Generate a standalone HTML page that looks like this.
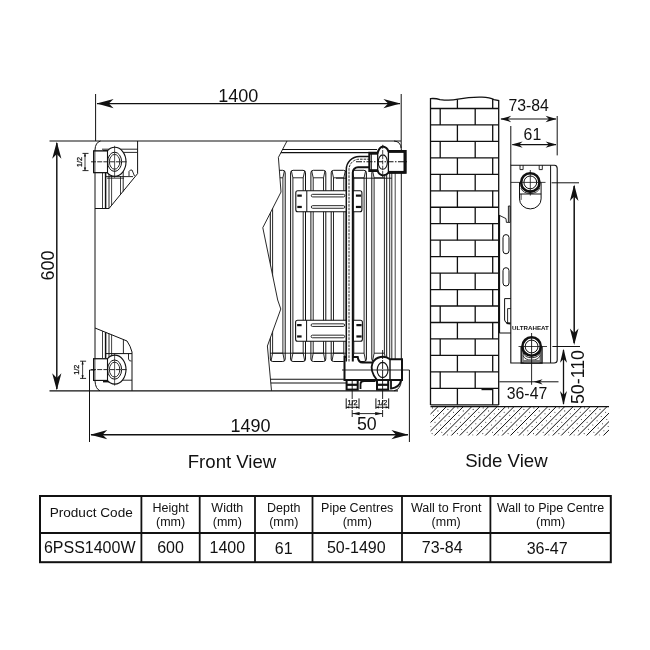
<!DOCTYPE html>
<html><head><meta charset="utf-8"><title>Radiator dimensions</title>
<style>
html,body{margin:0;padding:0;background:#fff;}
body{width:650px;height:650px;overflow:hidden;font-family:"Liberation Sans",sans-serif;}
svg{display:block;will-change:transform;opacity:0.999;}
svg text{font-family:"Liberation Sans",sans-serif;fill:#111;}
</style></head><body>
<svg width="650" height="650" viewBox="0 0 650 650">
<rect width="650" height="650" fill="#fff"/>
<line x1="95.6" y1="94" x2="95.6" y2="141" stroke="#111" stroke-width="1.0" />
<line x1="401.2" y1="94" x2="401.2" y2="148" stroke="#111" stroke-width="1.0" />
<line x1="97" y1="103.6" x2="400" y2="103.6" stroke="#111" stroke-width="1.45" />
<polygon points="96.60,103.60 113.60,99.00 108.84,103.60 113.60,108.20" fill="#111"/>
<polygon points="400.40,103.60 383.40,108.20 388.16,103.60 383.40,99.00" fill="#111"/>
<text x="238.2" y="101.8" font-size="18" text-anchor="middle" font-weight="normal" >1400</text>
<line x1="49.5" y1="141" x2="401" y2="141" stroke="#111" stroke-width="1.2" />
<line x1="49.5" y1="390.8" x2="398" y2="390.8" stroke="#111" stroke-width="1.2" />
<line x1="56.8" y1="143" x2="56.8" y2="389" stroke="#111" stroke-width="1.45" />
<polygon points="56.80,141.80 61.40,158.80 56.80,154.04 52.20,158.80" fill="#111"/>
<polygon points="56.80,390.20 52.20,373.20 56.80,377.96 61.40,373.20" fill="#111"/>
<text x="53.7" y="265.5" font-size="18" text-anchor="middle" font-weight="normal" transform="rotate(-90 53.7 265.5)" >600</text>
<line x1="89.5" y1="370" x2="89.5" y2="442" stroke="#111" stroke-width="1.0" />
<line x1="409.4" y1="370" x2="409.4" y2="442" stroke="#111" stroke-width="1.0" />
<line x1="91" y1="434.7" x2="408" y2="434.7" stroke="#111" stroke-width="1.45" />
<polygon points="90.30,434.70 107.30,430.10 102.54,434.70 107.30,439.30" fill="#111"/>
<polygon points="408.40,434.70 391.40,439.30 396.16,434.70 391.40,430.10" fill="#111"/>
<text x="250.5" y="431.8" font-size="18" text-anchor="middle" font-weight="normal" >1490</text>
<path d="M100.5,141 Q95.2,142.5 95,150 L95,381 Q95.5,389 100,390.8" fill="none" stroke="#111" stroke-width="1.0" />
<path d="M394,141 Q401,141.5 401.3,149 L401.3,380 Q401,389.5 394,390.8" fill="none" stroke="#111" stroke-width="1.0" />
<clipPath id="brk"><polygon points="287,141 278.4,157.4 281,192 262.8,227.7 277.7,300 280.8,309 267.4,346 271.5,390.8 402,390.8 402,141"/></clipPath>
<g clip-path="url(#brk)">
<line x1="270" y1="149.5" x2="377" y2="149.5" stroke="#111" stroke-width="1.1" />
<line x1="270" y1="152.6" x2="370" y2="152.6" stroke="#111" stroke-width="1.1" />
<line x1="265" y1="379.2" x2="346" y2="379.2" stroke="#111" stroke-width="1.1" />
<line x1="265" y1="383" x2="346" y2="383" stroke="#111" stroke-width="1.1" />
<path d="M270.3,359.0 L270.3,172.8 Q270.3,170.3 272.8,170.3 L282.7,170.3 Q285.2,170.3 285.2,172.8 L285.2,359.0 Q285.2,361.5 282.7,361.5 L272.8,361.5 Q270.3,361.5 270.3,359.0" fill="none" stroke="#111" stroke-width="1.0" />
<path d="M271.1,170.9 L272.6,177.8 L272.6,353.2 L271.1,360.9 M284.4,170.9 L282.9,177.8 L282.9,353.2 L284.4,360.9 M272.6,177.8 L282.9,177.8 M272.6,353.2 L282.9,353.2" fill="none" stroke="#111" stroke-width="0.9" />
<path d="M290.6,359.0 L290.6,172.8 Q290.6,170.3 293.1,170.3 L303.0,170.3 Q305.5,170.3 305.5,172.8 L305.5,359.0 Q305.5,361.5 303.0,361.5 L293.1,361.5 Q290.6,361.5 290.6,359.0" fill="none" stroke="#111" stroke-width="1.0" />
<path d="M291.40000000000003,170.9 L292.90000000000003,177.8 L292.90000000000003,353.2 L291.40000000000003,360.9 M304.7,170.9 L303.2,177.8 L303.2,353.2 L304.7,360.9 M292.90000000000003,177.8 L303.2,177.8 M292.90000000000003,353.2 L303.2,353.2" fill="none" stroke="#111" stroke-width="0.9" />
<path d="M310.90000000000003,359.0 L310.90000000000003,172.8 Q310.90000000000003,170.3 313.40000000000003,170.3 L323.3,170.3 Q325.8,170.3 325.8,172.8 L325.8,359.0 Q325.8,361.5 323.3,361.5 L313.40000000000003,361.5 Q310.90000000000003,361.5 310.90000000000003,359.0" fill="none" stroke="#111" stroke-width="1.0" />
<path d="M311.70000000000005,170.9 L313.20000000000005,177.8 L313.20000000000005,353.2 L311.70000000000005,360.9 M325.0,170.9 L323.5,177.8 L323.5,353.2 L325.0,360.9 M313.20000000000005,177.8 L323.5,177.8 M313.20000000000005,353.2 L323.5,353.2" fill="none" stroke="#111" stroke-width="0.9" />
<path d="M331.20000000000005,359.0 L331.20000000000005,172.8 Q331.20000000000005,170.3 333.70000000000005,170.3 L343.6,170.3 Q346.1,170.3 346.1,172.8 L346.1,359.0 Q346.1,361.5 343.6,361.5 L333.70000000000005,361.5 Q331.20000000000005,361.5 331.20000000000005,359.0" fill="none" stroke="#111" stroke-width="1.0" />
<path d="M332.00000000000006,170.9 L333.50000000000006,177.8 L333.50000000000006,353.2 L332.00000000000006,360.9 M345.3,170.9 L343.8,177.8 L343.8,353.2 L345.3,360.9 M333.50000000000006,177.8 L343.8,177.8 M333.50000000000006,353.2 L343.8,353.2" fill="none" stroke="#111" stroke-width="0.9" />
<path d="M351.5,359.0 L351.5,172.8 Q351.5,170.3 354.0,170.3 L363.9,170.3 Q366.4,170.3 366.4,172.8 L366.4,359.0 Q366.4,361.5 363.9,361.5 L354.0,361.5 Q351.5,361.5 351.5,359.0" fill="none" stroke="#111" stroke-width="1.0" />
<path d="M352.3,170.9 L353.8,177.8 L353.8,353.2 L352.3,360.9 M365.59999999999997,170.9 L364.09999999999997,177.8 L364.09999999999997,353.2 L365.59999999999997,360.9 M353.8,177.8 L364.09999999999997,177.8 M353.8,353.2 L364.09999999999997,353.2" fill="none" stroke="#111" stroke-width="0.9" />
<path d="M371.8,359.0 L371.8,172.8 Q371.8,170.3 374.3,170.3 L384.2,170.3 Q386.7,170.3 386.7,172.8 L386.7,359.0 Q386.7,361.5 384.2,361.5 L374.3,361.5 Q371.8,361.5 371.8,359.0" fill="none" stroke="#111" stroke-width="1.0" />
<path d="M372.6,170.9 L374.1,177.8 L374.1,353.2 L372.6,360.9 M385.9,170.9 L384.4,177.8 L384.4,353.2 L385.9,360.9 M374.1,177.8 L384.4,177.8 M374.1,353.2 L384.4,353.2" fill="none" stroke="#111" stroke-width="0.9" />
<line x1="336" y1="178.2" x2="391.8" y2="178.2" stroke="#111" stroke-width="0.9" />
<line x1="270" y1="353.2" x2="346" y2="353.2" stroke="#111" stroke-width="0.9" />
<line x1="389.7" y1="172" x2="389.7" y2="380" stroke="#111" stroke-width="0.9" />
<line x1="391.8" y1="172" x2="391.8" y2="380" stroke="#111" stroke-width="0.9" />
<line x1="395.2" y1="172" x2="395.2" y2="380" stroke="#444" stroke-width="1.0" />
</g>
<path d="M287,141 L278.4,157.4 L281,192 L262.8,227.7 L277.7,300 L280.8,309 L267.4,346 L271.5,390.8" fill="none" stroke="#111" stroke-width="0.9" />
<rect x="295.8" y="190.8" width="66.09999999999997" height="21.0" rx="2" fill="#fff" stroke="#111" stroke-width="1.1"/>
<line x1="306.8" y1="190.8" x2="306.8" y2="211.8" stroke="#111" stroke-width="1.0" />
<line x1="352.9" y1="190.8" x2="352.9" y2="211.8" stroke="#111" stroke-width="1.0" />
<rect x="311.3" y="194.33" width="33.5" height="2.6" rx="1.3" fill="#fff" stroke="#111" stroke-width="0.9"/>
<line x1="297.3" y1="195.63000000000002" x2="301.8" y2="195.63000000000002" stroke="#111" stroke-width="2.2" />
<line x1="355.9" y1="195.63000000000002" x2="361.09999999999997" y2="195.63000000000002" stroke="#111" stroke-width="2.2" />
<rect x="311.3" y="205.67000000000002" width="33.5" height="2.6" rx="1.3" fill="#fff" stroke="#111" stroke-width="0.9"/>
<line x1="297.3" y1="206.97000000000003" x2="301.8" y2="206.97000000000003" stroke="#111" stroke-width="2.2" />
<line x1="355.9" y1="206.97000000000003" x2="361.09999999999997" y2="206.97000000000003" stroke="#111" stroke-width="2.2" />
<rect x="295.6" y="320.3" width="66.79999999999995" height="21.0" rx="2" fill="#fff" stroke="#111" stroke-width="1.1"/>
<line x1="306.6" y1="320.3" x2="306.6" y2="341.3" stroke="#111" stroke-width="1.0" />
<line x1="353.4" y1="320.3" x2="353.4" y2="341.3" stroke="#111" stroke-width="1.0" />
<rect x="311.1" y="323.83" width="33.5" height="2.6" rx="1.3" fill="#fff" stroke="#111" stroke-width="0.9"/>
<line x1="297.1" y1="325.13" x2="301.6" y2="325.13" stroke="#111" stroke-width="2.2" />
<line x1="356.4" y1="325.13" x2="361.59999999999997" y2="325.13" stroke="#111" stroke-width="2.2" />
<rect x="311.1" y="335.17" width="33.5" height="2.6" rx="1.3" fill="#fff" stroke="#111" stroke-width="0.9"/>
<line x1="297.1" y1="336.47" x2="301.6" y2="336.47" stroke="#111" stroke-width="2.2" />
<line x1="356.4" y1="336.47" x2="361.59999999999997" y2="336.47" stroke="#111" stroke-width="2.2" />
<path d="M344.5,357 L357.7,357 Q358.5,362.6 362.5,362.6 L372.6,362.6 A11.7,11.7 0 0 1 390,359.2 L402,359.2 L402,380 L344.5,380 Z" fill="#fff" stroke="#111" stroke-width="2.0" />
<rect x="346.6" y="380" width="11.1" height="9.6" rx="0" fill="#fff" stroke="#111" stroke-width="2.0"/>
<rect x="377" y="380" width="11.2" height="9.6" rx="0" fill="#fff" stroke="#111" stroke-width="2.0"/>
<line x1="346.6" y1="384.8" x2="357.7" y2="384.8" stroke="#111" stroke-width="2.2" />
<line x1="377" y1="384.8" x2="388.2" y2="384.8" stroke="#111" stroke-width="2.2" />
<line x1="390" y1="359.2" x2="390" y2="380" stroke="#111" stroke-width="1.4" />
<path d="M372.6,362.6 Q369.4,371 377,380" fill="none" stroke="#111" stroke-width="1.8" />
<ellipse cx="382.6" cy="370" rx="5.4" ry="7.6" fill="none" stroke="#111" stroke-width="1.1"/>
<path d="M360.5,389 L360.5,384 Q360.5,381 364,381 L375.5,381" fill="none" stroke="#111" stroke-width="1.8" />
<path d="M391,380.5 L391,388.6 Q399.5,387.5 401,380.5" fill="none" stroke="#111" stroke-width="1.8" />
<line x1="342" y1="370" x2="409.4" y2="370" stroke="#111" stroke-width="0.9" />
<line x1="352.2" y1="380" x2="352.2" y2="417" stroke="#111" stroke-width="0.9" stroke-dasharray="9 1"/>
<line x1="382.6" y1="350" x2="382.6" y2="417" stroke="#111" stroke-width="0.9" stroke-dasharray="9 1"/>
<path d="M346.3,361.5 L346.3,169.5 A13,13 0 0 1 359.3,156.5 L370,156.5 L370,167.3 L358.2,167.3 A5.2,5.2 0 0 0 353,172.5 L353,361.5 Z" fill="#fff" stroke="none" stroke-width="0" />
<path d="M346.3,361.5 L346.3,169.5 A13,13 0 0 1 359.3,156.5 L370,156.5" fill="none" stroke="#111" stroke-width="1.5" />
<path d="M349,361.5 L349,169.5 A10.3,10.3 0 0 1 359.3,159.2 L370,159.2" fill="none" stroke="#111" stroke-width="0.9" stroke-dasharray="2.6 1"/>
<path d="M352.8,361.5 L352.8,172.5 A5.2,5.2 0 0 1 358,167.3 L370,167.3" fill="none" stroke="#111" stroke-width="2.0" />
<path d="M369.3,152.8 L377.7,152.8 Q379,147.2 383,146.4 Q387,147.2 388.4,151.1 L405.7,151.1 L405.7,172.7 L388.4,172.7 Q387,174.8 383,175.4 Q379,174.8 377.7,171 L369.3,171 Z" fill="#fff" stroke="#111" stroke-width="2.0" />
<line x1="377.7" y1="152.8" x2="377.7" y2="171" stroke="#111" stroke-width="1.3" />
<line x1="388.4" y1="151.1" x2="388.4" y2="172.7" stroke="#111" stroke-width="1.3" />
<line x1="404.4" y1="151.1" x2="404.4" y2="172.7" stroke="#111" stroke-width="1.8" />
<line x1="371.3" y1="152.8" x2="371.3" y2="171" stroke="#111" stroke-width="1.0" />
<line x1="369.3" y1="153.4" x2="377.7" y2="153.4" stroke="#111" stroke-width="2.6" />
<line x1="369.3" y1="170.5" x2="377.7" y2="170.5" stroke="#111" stroke-width="2.6" />
<line x1="388.4" y1="151.6" x2="405.7" y2="151.6" stroke="#111" stroke-width="2.6" />
<line x1="388.4" y1="172.2" x2="405.7" y2="172.2" stroke="#111" stroke-width="2.6" />
<ellipse cx="382.8" cy="162.1" rx="4.6" ry="7.2" fill="none" stroke="#111" stroke-width="1.1"/>
<line x1="356" y1="161.8" x2="408.5" y2="161.8" stroke="#111" stroke-width="1.1" stroke-dasharray="6 1.5 1.5 1.5"/>
<line x1="382.7" y1="144.8" x2="382.7" y2="177.5" stroke="#111" stroke-width="0.8" stroke-dasharray="4 1.2"/>
<line x1="346.20000000000005" y1="398.4" x2="346.20000000000005" y2="408.8" stroke="#111" stroke-width="1.0" />
<line x1="359.0" y1="398.4" x2="359.0" y2="408.8" stroke="#111" stroke-width="1.0" />
<line x1="346.20000000000005" y1="407.3" x2="359.0" y2="407.3" stroke="#111" stroke-width="0.9" />
<polygon points="346.20000000000005,407.3 349.20000000000005,406.2 349.20000000000005,408.4" fill="#111"/>
<polygon points="359.0,407.3 356.0,406.2 356.0,408.4" fill="#111"/>
<text x="352.6" y="405.3" font-size="7.2" text-anchor="middle" font-weight="normal" stroke="#111" stroke-width="0.25">1/2</text>
<line x1="375.90000000000003" y1="398.4" x2="375.90000000000003" y2="408.8" stroke="#111" stroke-width="1.0" />
<line x1="388.7" y1="398.4" x2="388.7" y2="408.8" stroke="#111" stroke-width="1.0" />
<line x1="375.90000000000003" y1="407.3" x2="388.7" y2="407.3" stroke="#111" stroke-width="0.9" />
<polygon points="375.90000000000003,407.3 378.90000000000003,406.2 378.90000000000003,408.4" fill="#111"/>
<polygon points="388.7,407.3 385.7,406.2 385.7,408.4" fill="#111"/>
<text x="382.3" y="405.3" font-size="7.2" text-anchor="middle" font-weight="normal" stroke="#111" stroke-width="0.25">1/2</text>
<line x1="352.2" y1="413.6" x2="382.6" y2="413.6" stroke="#111" stroke-width="0.9" />
<polygon points="352.2,413.6 359.6,412 359.6,415.2" fill="#111"/>
<polygon points="382.6,413.6 375.2,412 375.2,415.2" fill="#111"/>
<text x="366.8" y="429.7" font-size="17.8" text-anchor="middle" font-weight="normal" >50</text>
<path d="M137.6,141 L137.6,173.6 L109,208.5 L95,208.5" fill="none" stroke="#111" stroke-width="1.0" />
<line x1="102" y1="149.2" x2="137.6" y2="149.2" stroke="#111" stroke-width="0.9" />
<line x1="103" y1="151" x2="108" y2="151" stroke="#111" stroke-width="1.6" />
<line x1="122" y1="152.4" x2="137" y2="152.4" stroke="#111" stroke-width="0.9" />
<path d="M129,176 L129,171.5 Q130,169.5 132,170 L134.5,176" fill="none" stroke="#111" stroke-width="0.9" />
<line x1="105" y1="176.6" x2="133" y2="176.6" stroke="#111" stroke-width="0.9" />
<line x1="107" y1="178.2" x2="124" y2="178.2" stroke="#111" stroke-width="0.8" />
<line x1="102.5" y1="173" x2="102.5" y2="208.5" stroke="#111" stroke-width="0.8" />
<line x1="105.6" y1="173" x2="105.6" y2="208.5" stroke="#111" stroke-width="1.5" />
<line x1="109" y1="173" x2="109" y2="208.5" stroke="#111" stroke-width="0.9" />
<line x1="111.6" y1="173" x2="111.6" y2="205" stroke="#111" stroke-width="0.8" />
<line x1="123.2" y1="164" x2="123.2" y2="191.5" stroke="#111" stroke-width="0.9" />
<line x1="120.5" y1="176" x2="120.5" y2="195" stroke="#111" stroke-width="0.8" />
<rect x="93.6" y="151.0" width="13.9" height="21.6" rx="0" fill="#fff" stroke="#111" stroke-width="1.1"/>
<line x1="94.9" y1="151.0" x2="94.9" y2="172.60000000000002" stroke="#111" stroke-width="0.8" />
<ellipse cx="114.8" cy="161.8" rx="11.2" ry="14.5" fill="#fff" stroke="#111" stroke-width="1.1"/>
<rect x="93.6" y="151.0" width="13.9" height="21.6" rx="0" fill="#fff" stroke="#111" stroke-width="1.1"/>
<line x1="94.9" y1="151.0" x2="94.9" y2="172.60000000000002" stroke="#111" stroke-width="0.8" />
<ellipse cx="114.6" cy="161.8" rx="7.0" ry="9.6" fill="none" stroke="#111" stroke-width="1.0"/>
<ellipse cx="114.6" cy="161.8" rx="5.2" ry="7.4" fill="none" stroke="#111" stroke-width="0.9"/>
<line x1="91" y1="161.8" x2="126.5" y2="161.8" stroke="#111" stroke-width="0.9" stroke-dasharray="5 1.2"/>
<line x1="114.6" y1="145.8" x2="114.6" y2="177.8" stroke="#111" stroke-width="0.7" />
<line x1="85" y1="153.4" x2="85" y2="170.6" stroke="#111" stroke-width="0.8" />
<line x1="82.5" y1="153.4" x2="88.5" y2="153.4" stroke="#111" stroke-width="0.9" />
<line x1="82.5" y1="170.6" x2="88.5" y2="170.6" stroke="#111" stroke-width="0.9" />
<polygon points="85,153.4 83.9,156.6 86.1,156.6" fill="#111"/>
<polygon points="85,170.6 83.9,167.4 86.1,167.4" fill="#111"/>
<text x="81.6" y="162" font-size="7.2" text-anchor="middle" font-weight="normal" transform="rotate(-90 81.6 162)" stroke="#111" stroke-width="0.25">1/2</text>
<path d="M95,328 L127,341 Q130.5,346 132,352 L132,390.8" fill="none" stroke="#111" stroke-width="1.0" />
<line x1="105" y1="353.6" x2="132" y2="353.6" stroke="#111" stroke-width="1.0" />
<line x1="102.5" y1="331.046875" x2="102.5" y2="359" stroke="#111" stroke-width="0.8" />
<line x1="105.6" y1="332.30625" x2="105.6" y2="359" stroke="#111" stroke-width="1.5" />
<line x1="109" y1="333.6875" x2="109" y2="359" stroke="#111" stroke-width="0.9" />
<line x1="111.6" y1="334.74375" x2="111.6" y2="359" stroke="#111" stroke-width="0.8" />
<line x1="123.4" y1="339.6" x2="123.4" y2="353.6" stroke="#111" stroke-width="0.9" />
<path d="M128.5,353.6 L128.5,359 Q129,361.5 131.5,361" fill="none" stroke="#111" stroke-width="0.9" />
<line x1="107" y1="380.2" x2="132" y2="380.2" stroke="#111" stroke-width="0.9" />
<line x1="103" y1="381.6" x2="110" y2="381.6" stroke="#111" stroke-width="1.6" />
<rect x="93.6" y="358.8" width="13.9" height="21.6" rx="0" fill="#fff" stroke="#111" stroke-width="1.1"/>
<line x1="94.9" y1="358.8" x2="94.9" y2="380.40000000000003" stroke="#111" stroke-width="0.8" />
<ellipse cx="114.8" cy="369.6" rx="11.2" ry="14.5" fill="#fff" stroke="#111" stroke-width="1.1"/>
<rect x="93.6" y="358.8" width="13.9" height="21.6" rx="0" fill="#fff" stroke="#111" stroke-width="1.1"/>
<line x1="94.9" y1="358.8" x2="94.9" y2="380.40000000000003" stroke="#111" stroke-width="0.8" />
<ellipse cx="114.6" cy="369.6" rx="7.0" ry="9.6" fill="none" stroke="#111" stroke-width="1.0"/>
<ellipse cx="114.6" cy="369.6" rx="5.2" ry="7.4" fill="none" stroke="#111" stroke-width="0.9"/>
<line x1="91" y1="369.6" x2="126.5" y2="369.6" stroke="#111" stroke-width="0.9" stroke-dasharray="5 1.2"/>
<line x1="114.6" y1="353.6" x2="114.6" y2="385.6" stroke="#111" stroke-width="0.7" />
<line x1="82.6" y1="361.2" x2="82.6" y2="378.40000000000003" stroke="#111" stroke-width="0.8" />
<line x1="80.1" y1="361.2" x2="86.1" y2="361.2" stroke="#111" stroke-width="0.9" />
<line x1="80.1" y1="378.40000000000003" x2="86.1" y2="378.40000000000003" stroke="#111" stroke-width="0.9" />
<polygon points="82.6,361.2 81.5,364.40000000000003 83.69999999999999,364.40000000000003" fill="#111"/>
<polygon points="82.6,378.40000000000003 81.5,375.2 83.69999999999999,375.2" fill="#111"/>
<text x="79.19999999999999" y="369.8" font-size="7.2" text-anchor="middle" font-weight="normal" transform="rotate(-90 79.19999999999999 369.8)" stroke="#111" stroke-width="0.25">1/2</text>
<line x1="89.5" y1="370" x2="95" y2="370" stroke="#111" stroke-width="0.9" />
<path d="M430.5,405 L430.5,98.6 Q436,98.2 440,99.6 Q450,101 458,99.2 Q470,96.9 482,97.2 Q490,97.6 494,99.6 L498.7,100.6 L498.7,405" fill="none" stroke="#111" stroke-width="1.3" />
<clipPath id="wallc"><path d="M430.5,405 L430.5,98.6 Q436,98.2 440,99.6 Q450,101 458,99.2 Q470,96.9 482,97.2 Q490,97.6 494,99.6 L498.7,100.6 L498.7,405 Z"/></clipPath>
<g clip-path="url(#wallc)">
<line x1="430.5" y1="108.5" x2="498.7" y2="108.5" stroke="#111" stroke-width="1.3" />
<line x1="430.5" y1="124.96000000000001" x2="498.7" y2="124.96000000000001" stroke="#111" stroke-width="1.3" />
<line x1="430.5" y1="141.42000000000002" x2="498.7" y2="141.42000000000002" stroke="#111" stroke-width="1.3" />
<line x1="430.5" y1="157.88" x2="498.7" y2="157.88" stroke="#111" stroke-width="1.3" />
<line x1="430.5" y1="174.34" x2="498.7" y2="174.34" stroke="#111" stroke-width="1.3" />
<line x1="430.5" y1="190.8" x2="498.7" y2="190.8" stroke="#111" stroke-width="1.3" />
<line x1="430.5" y1="207.26" x2="498.7" y2="207.26" stroke="#111" stroke-width="1.3" />
<line x1="430.5" y1="223.72" x2="498.7" y2="223.72" stroke="#111" stroke-width="1.3" />
<line x1="430.5" y1="240.18" x2="498.7" y2="240.18" stroke="#111" stroke-width="1.3" />
<line x1="430.5" y1="256.64" x2="498.7" y2="256.64" stroke="#111" stroke-width="1.3" />
<line x1="430.5" y1="273.1" x2="498.7" y2="273.1" stroke="#111" stroke-width="1.3" />
<line x1="430.5" y1="289.56" x2="498.7" y2="289.56" stroke="#111" stroke-width="1.3" />
<line x1="430.5" y1="306.02" x2="498.7" y2="306.02" stroke="#111" stroke-width="1.3" />
<line x1="430.5" y1="322.48" x2="498.7" y2="322.48" stroke="#111" stroke-width="1.3" />
<line x1="430.5" y1="338.94" x2="498.7" y2="338.94" stroke="#111" stroke-width="1.3" />
<line x1="430.5" y1="355.4" x2="498.7" y2="355.4" stroke="#111" stroke-width="1.3" />
<line x1="430.5" y1="371.86" x2="498.7" y2="371.86" stroke="#111" stroke-width="1.3" />
<line x1="430.5" y1="388.32" x2="498.7" y2="388.32" stroke="#111" stroke-width="1.3" />
<line x1="457.4" y1="92.0" x2="457.4" y2="108.5" stroke="#111" stroke-width="1.3" />
<line x1="492.7" y1="92.0" x2="492.7" y2="108.5" stroke="#111" stroke-width="1.3" />
<line x1="440.2" y1="108.5" x2="440.2" y2="124.96000000000001" stroke="#111" stroke-width="1.3" />
<line x1="475.2" y1="108.5" x2="475.2" y2="124.96000000000001" stroke="#111" stroke-width="1.3" />
<line x1="457.4" y1="124.96000000000001" x2="457.4" y2="141.42000000000002" stroke="#111" stroke-width="1.3" />
<line x1="492.7" y1="124.96000000000001" x2="492.7" y2="141.42000000000002" stroke="#111" stroke-width="1.3" />
<line x1="440.2" y1="141.42000000000002" x2="440.2" y2="157.88" stroke="#111" stroke-width="1.3" />
<line x1="475.2" y1="141.42000000000002" x2="475.2" y2="157.88" stroke="#111" stroke-width="1.3" />
<line x1="457.4" y1="157.88" x2="457.4" y2="174.34" stroke="#111" stroke-width="1.3" />
<line x1="492.7" y1="157.88" x2="492.7" y2="174.34" stroke="#111" stroke-width="1.3" />
<line x1="440.2" y1="174.34" x2="440.2" y2="190.8" stroke="#111" stroke-width="1.3" />
<line x1="475.2" y1="174.34" x2="475.2" y2="190.8" stroke="#111" stroke-width="1.3" />
<line x1="457.4" y1="190.8" x2="457.4" y2="207.26" stroke="#111" stroke-width="1.3" />
<line x1="492.7" y1="190.8" x2="492.7" y2="207.26" stroke="#111" stroke-width="1.3" />
<line x1="440.2" y1="207.26" x2="440.2" y2="223.72" stroke="#111" stroke-width="1.3" />
<line x1="475.2" y1="207.26" x2="475.2" y2="223.72" stroke="#111" stroke-width="1.3" />
<line x1="457.4" y1="223.72" x2="457.4" y2="240.18" stroke="#111" stroke-width="1.3" />
<line x1="492.7" y1="223.72" x2="492.7" y2="240.18" stroke="#111" stroke-width="1.3" />
<line x1="440.2" y1="240.18" x2="440.2" y2="256.64" stroke="#111" stroke-width="1.3" />
<line x1="475.2" y1="240.18" x2="475.2" y2="256.64" stroke="#111" stroke-width="1.3" />
<line x1="457.4" y1="256.64" x2="457.4" y2="273.1" stroke="#111" stroke-width="1.3" />
<line x1="492.7" y1="256.64" x2="492.7" y2="273.1" stroke="#111" stroke-width="1.3" />
<line x1="440.2" y1="273.1" x2="440.2" y2="289.56" stroke="#111" stroke-width="1.3" />
<line x1="475.2" y1="273.1" x2="475.2" y2="289.56" stroke="#111" stroke-width="1.3" />
<line x1="457.4" y1="289.56" x2="457.4" y2="306.02" stroke="#111" stroke-width="1.3" />
<line x1="492.7" y1="289.56" x2="492.7" y2="306.02" stroke="#111" stroke-width="1.3" />
<line x1="440.2" y1="306.02" x2="440.2" y2="322.48" stroke="#111" stroke-width="1.3" />
<line x1="475.2" y1="306.02" x2="475.2" y2="322.48" stroke="#111" stroke-width="1.3" />
<line x1="457.4" y1="322.48" x2="457.4" y2="338.94" stroke="#111" stroke-width="1.3" />
<line x1="492.7" y1="322.48" x2="492.7" y2="338.94" stroke="#111" stroke-width="1.3" />
<line x1="440.2" y1="338.94" x2="440.2" y2="355.4" stroke="#111" stroke-width="1.3" />
<line x1="475.2" y1="338.94" x2="475.2" y2="355.4" stroke="#111" stroke-width="1.3" />
<line x1="457.4" y1="355.4" x2="457.4" y2="371.86" stroke="#111" stroke-width="1.3" />
<line x1="492.7" y1="355.4" x2="492.7" y2="371.86" stroke="#111" stroke-width="1.3" />
<line x1="440.2" y1="371.86" x2="440.2" y2="388.32" stroke="#111" stroke-width="1.3" />
<line x1="475.2" y1="371.86" x2="475.2" y2="388.32" stroke="#111" stroke-width="1.3" />
<line x1="457.4" y1="388.32" x2="457.4" y2="404.78000000000003" stroke="#111" stroke-width="1.3" />
<line x1="492.7" y1="388.32" x2="492.7" y2="404.78000000000003" stroke="#111" stroke-width="1.3" />
</g>
<line x1="430.5" y1="404.8" x2="498.7" y2="404.8" stroke="#111" stroke-width="1.3" />
<line x1="481.5" y1="389.3" x2="492.5" y2="389.3" stroke="#111" stroke-width="1.8" />
<clipPath id="gr"><rect x="430.5" y="406.6" width="178.5" height="29"/></clipPath>
<g clip-path="url(#gr)">
<line x1="391.1" y1="436.6" x2="421.1" y2="406.6" stroke="#111" stroke-width="1.0" />
<line x1="399.55" y1="436.6" x2="429.55" y2="406.6" stroke="#111" stroke-width="1.0" />
<line x1="408.0" y1="436.6" x2="438.0" y2="406.6" stroke="#111" stroke-width="1.0" />
<line x1="416.45" y1="436.6" x2="446.45" y2="406.6" stroke="#111" stroke-width="1.0" />
<line x1="424.9" y1="436.6" x2="454.9" y2="406.6" stroke="#111" stroke-width="1.0" />
<line x1="433.35" y1="436.6" x2="463.35" y2="406.6" stroke="#111" stroke-width="1.0" />
<line x1="441.8" y1="436.6" x2="471.8" y2="406.6" stroke="#111" stroke-width="1.0" />
<line x1="450.25" y1="436.6" x2="480.25" y2="406.6" stroke="#111" stroke-width="1.0" />
<line x1="458.7" y1="436.6" x2="488.7" y2="406.6" stroke="#111" stroke-width="1.0" />
<line x1="467.15" y1="436.6" x2="497.15" y2="406.6" stroke="#111" stroke-width="1.0" />
<line x1="475.6" y1="436.6" x2="505.6" y2="406.6" stroke="#111" stroke-width="1.0" />
<line x1="484.05" y1="436.6" x2="514.05" y2="406.6" stroke="#111" stroke-width="1.0" />
<line x1="492.5" y1="436.6" x2="522.5" y2="406.6" stroke="#111" stroke-width="1.0" />
<line x1="500.95" y1="436.6" x2="530.95" y2="406.6" stroke="#111" stroke-width="1.0" />
<line x1="509.4" y1="436.6" x2="539.4" y2="406.6" stroke="#111" stroke-width="1.0" />
<line x1="517.85" y1="436.6" x2="547.85" y2="406.6" stroke="#111" stroke-width="1.0" />
<line x1="526.3" y1="436.6" x2="556.3" y2="406.6" stroke="#111" stroke-width="1.0" />
<line x1="534.75" y1="436.6" x2="564.75" y2="406.6" stroke="#111" stroke-width="1.0" />
<line x1="543.2" y1="436.6" x2="573.2" y2="406.6" stroke="#111" stroke-width="1.0" />
<line x1="551.65" y1="436.6" x2="581.65" y2="406.6" stroke="#111" stroke-width="1.0" />
<line x1="560.1" y1="436.6" x2="590.1" y2="406.6" stroke="#111" stroke-width="1.0" />
<line x1="568.55" y1="436.6" x2="598.55" y2="406.6" stroke="#111" stroke-width="1.0" />
<line x1="577.0" y1="436.6" x2="607.0" y2="406.6" stroke="#111" stroke-width="1.0" />
<line x1="585.45" y1="436.6" x2="615.45" y2="406.6" stroke="#111" stroke-width="1.0" />
<line x1="593.9" y1="436.6" x2="623.9" y2="406.6" stroke="#111" stroke-width="1.0" />
<line x1="602.35" y1="436.6" x2="632.35" y2="406.6" stroke="#111" stroke-width="1.0" />
<line x1="610.8" y1="436.6" x2="640.8" y2="406.6" stroke="#111" stroke-width="1.0" />
<line x1="619.25" y1="436.6" x2="649.25" y2="406.6" stroke="#111" stroke-width="1.0" />
<line x1="627.7" y1="436.6" x2="657.7" y2="406.6" stroke="#111" stroke-width="1.0" />
<circle cx="396.8" cy="435.1" r="0.55" fill="#333"/>
<circle cx="401.1" cy="430.8" r="0.55" fill="#333"/>
<circle cx="405.4" cy="426.5" r="0.55" fill="#333"/>
<circle cx="409.7" cy="422.2" r="0.55" fill="#333"/>
<circle cx="413.9" cy="418.0" r="0.55" fill="#333"/>
<circle cx="418.2" cy="413.7" r="0.55" fill="#333"/>
<circle cx="422.5" cy="409.4" r="0.55" fill="#333"/>
<circle cx="406.8" cy="433.6" r="0.55" fill="#333"/>
<circle cx="411.0" cy="429.3" r="0.55" fill="#333"/>
<circle cx="415.3" cy="425.0" r="0.55" fill="#333"/>
<circle cx="419.6" cy="420.7" r="0.55" fill="#333"/>
<circle cx="423.9" cy="416.5" r="0.55" fill="#333"/>
<circle cx="428.2" cy="412.2" r="0.55" fill="#333"/>
<circle cx="432.5" cy="407.9" r="0.55" fill="#333"/>
<circle cx="412.2" cy="436.6" r="0.55" fill="#333"/>
<circle cx="416.5" cy="432.3" r="0.55" fill="#333"/>
<circle cx="420.8" cy="428.0" r="0.55" fill="#333"/>
<circle cx="425.1" cy="423.7" r="0.55" fill="#333"/>
<circle cx="429.3" cy="419.5" r="0.55" fill="#333"/>
<circle cx="433.6" cy="415.2" r="0.55" fill="#333"/>
<circle cx="437.9" cy="410.9" r="0.55" fill="#333"/>
<circle cx="422.1" cy="435.1" r="0.55" fill="#333"/>
<circle cx="426.4" cy="430.8" r="0.55" fill="#333"/>
<circle cx="430.7" cy="426.5" r="0.55" fill="#333"/>
<circle cx="435.0" cy="422.2" r="0.55" fill="#333"/>
<circle cx="439.3" cy="418.0" r="0.55" fill="#333"/>
<circle cx="443.6" cy="413.7" r="0.55" fill="#333"/>
<circle cx="447.9" cy="409.4" r="0.55" fill="#333"/>
<circle cx="432.1" cy="433.6" r="0.55" fill="#333"/>
<circle cx="436.4" cy="429.3" r="0.55" fill="#333"/>
<circle cx="440.7" cy="425.0" r="0.55" fill="#333"/>
<circle cx="445.0" cy="420.7" r="0.55" fill="#333"/>
<circle cx="449.2" cy="416.5" r="0.55" fill="#333"/>
<circle cx="453.5" cy="412.2" r="0.55" fill="#333"/>
<circle cx="457.8" cy="407.9" r="0.55" fill="#333"/>
<circle cx="437.6" cy="436.6" r="0.55" fill="#333"/>
<circle cx="441.8" cy="432.3" r="0.55" fill="#333"/>
<circle cx="446.1" cy="428.0" r="0.55" fill="#333"/>
<circle cx="450.4" cy="423.7" r="0.55" fill="#333"/>
<circle cx="454.7" cy="419.5" r="0.55" fill="#333"/>
<circle cx="459.0" cy="415.2" r="0.55" fill="#333"/>
<circle cx="463.3" cy="410.9" r="0.55" fill="#333"/>
<circle cx="447.5" cy="435.1" r="0.55" fill="#333"/>
<circle cx="451.8" cy="430.8" r="0.55" fill="#333"/>
<circle cx="456.1" cy="426.5" r="0.55" fill="#333"/>
<circle cx="460.4" cy="422.2" r="0.55" fill="#333"/>
<circle cx="464.6" cy="418.0" r="0.55" fill="#333"/>
<circle cx="468.9" cy="413.7" r="0.55" fill="#333"/>
<circle cx="473.2" cy="409.4" r="0.55" fill="#333"/>
<circle cx="457.4" cy="433.6" r="0.55" fill="#333"/>
<circle cx="461.7" cy="429.3" r="0.55" fill="#333"/>
<circle cx="466.0" cy="425.0" r="0.55" fill="#333"/>
<circle cx="470.3" cy="420.7" r="0.55" fill="#333"/>
<circle cx="474.6" cy="416.5" r="0.55" fill="#333"/>
<circle cx="478.9" cy="412.2" r="0.55" fill="#333"/>
<circle cx="483.2" cy="407.9" r="0.55" fill="#333"/>
<circle cx="462.9" cy="436.6" r="0.55" fill="#333"/>
<circle cx="467.2" cy="432.3" r="0.55" fill="#333"/>
<circle cx="471.5" cy="428.0" r="0.55" fill="#333"/>
<circle cx="475.8" cy="423.7" r="0.55" fill="#333"/>
<circle cx="480.0" cy="419.5" r="0.55" fill="#333"/>
<circle cx="484.3" cy="415.2" r="0.55" fill="#333"/>
<circle cx="488.6" cy="410.9" r="0.55" fill="#333"/>
<circle cx="472.8" cy="435.1" r="0.55" fill="#333"/>
<circle cx="477.1" cy="430.8" r="0.55" fill="#333"/>
<circle cx="481.4" cy="426.5" r="0.55" fill="#333"/>
<circle cx="485.7" cy="422.2" r="0.55" fill="#333"/>
<circle cx="490.0" cy="418.0" r="0.55" fill="#333"/>
<circle cx="494.3" cy="413.7" r="0.55" fill="#333"/>
<circle cx="498.6" cy="409.4" r="0.55" fill="#333"/>
<circle cx="482.8" cy="433.6" r="0.55" fill="#333"/>
<circle cx="487.1" cy="429.3" r="0.55" fill="#333"/>
<circle cx="491.4" cy="425.0" r="0.55" fill="#333"/>
<circle cx="495.7" cy="420.7" r="0.55" fill="#333"/>
<circle cx="499.9" cy="416.5" r="0.55" fill="#333"/>
<circle cx="504.2" cy="412.2" r="0.55" fill="#333"/>
<circle cx="508.5" cy="407.9" r="0.55" fill="#333"/>
<circle cx="488.2" cy="436.6" r="0.55" fill="#333"/>
<circle cx="492.5" cy="432.3" r="0.55" fill="#333"/>
<circle cx="496.8" cy="428.0" r="0.55" fill="#333"/>
<circle cx="501.1" cy="423.7" r="0.55" fill="#333"/>
<circle cx="505.4" cy="419.5" r="0.55" fill="#333"/>
<circle cx="509.7" cy="415.2" r="0.55" fill="#333"/>
<circle cx="514.0" cy="410.9" r="0.55" fill="#333"/>
<circle cx="498.2" cy="435.1" r="0.55" fill="#333"/>
<circle cx="502.5" cy="430.8" r="0.55" fill="#333"/>
<circle cx="506.8" cy="426.5" r="0.55" fill="#333"/>
<circle cx="511.1" cy="422.2" r="0.55" fill="#333"/>
<circle cx="515.3" cy="418.0" r="0.55" fill="#333"/>
<circle cx="519.6" cy="413.7" r="0.55" fill="#333"/>
<circle cx="523.9" cy="409.4" r="0.55" fill="#333"/>
<circle cx="508.1" cy="433.6" r="0.55" fill="#333"/>
<circle cx="512.4" cy="429.3" r="0.55" fill="#333"/>
<circle cx="516.7" cy="425.0" r="0.55" fill="#333"/>
<circle cx="521.0" cy="420.7" r="0.55" fill="#333"/>
<circle cx="525.3" cy="416.5" r="0.55" fill="#333"/>
<circle cx="529.6" cy="412.2" r="0.55" fill="#333"/>
<circle cx="533.9" cy="407.9" r="0.55" fill="#333"/>
<circle cx="513.6" cy="436.6" r="0.55" fill="#333"/>
<circle cx="517.9" cy="432.3" r="0.55" fill="#333"/>
<circle cx="522.2" cy="428.0" r="0.55" fill="#333"/>
<circle cx="526.5" cy="423.7" r="0.55" fill="#333"/>
<circle cx="530.7" cy="419.5" r="0.55" fill="#333"/>
<circle cx="535.0" cy="415.2" r="0.55" fill="#333"/>
<circle cx="539.3" cy="410.9" r="0.55" fill="#333"/>
<circle cx="523.6" cy="435.1" r="0.55" fill="#333"/>
<circle cx="527.8" cy="430.8" r="0.55" fill="#333"/>
<circle cx="532.1" cy="426.5" r="0.55" fill="#333"/>
<circle cx="536.4" cy="422.2" r="0.55" fill="#333"/>
<circle cx="540.7" cy="418.0" r="0.55" fill="#333"/>
<circle cx="545.0" cy="413.7" r="0.55" fill="#333"/>
<circle cx="549.3" cy="409.4" r="0.55" fill="#333"/>
<circle cx="533.5" cy="433.6" r="0.55" fill="#333"/>
<circle cx="537.8" cy="429.3" r="0.55" fill="#333"/>
<circle cx="542.1" cy="425.0" r="0.55" fill="#333"/>
<circle cx="546.4" cy="420.7" r="0.55" fill="#333"/>
<circle cx="550.6" cy="416.5" r="0.55" fill="#333"/>
<circle cx="554.9" cy="412.2" r="0.55" fill="#333"/>
<circle cx="559.2" cy="407.9" r="0.55" fill="#333"/>
<circle cx="539.0" cy="436.6" r="0.55" fill="#333"/>
<circle cx="543.2" cy="432.3" r="0.55" fill="#333"/>
<circle cx="547.5" cy="428.0" r="0.55" fill="#333"/>
<circle cx="551.8" cy="423.7" r="0.55" fill="#333"/>
<circle cx="556.1" cy="419.5" r="0.55" fill="#333"/>
<circle cx="560.4" cy="415.2" r="0.55" fill="#333"/>
<circle cx="564.7" cy="410.9" r="0.55" fill="#333"/>
<circle cx="548.9" cy="435.1" r="0.55" fill="#333"/>
<circle cx="553.2" cy="430.8" r="0.55" fill="#333"/>
<circle cx="557.5" cy="426.5" r="0.55" fill="#333"/>
<circle cx="561.8" cy="422.2" r="0.55" fill="#333"/>
<circle cx="566.0" cy="418.0" r="0.55" fill="#333"/>
<circle cx="570.3" cy="413.7" r="0.55" fill="#333"/>
<circle cx="574.6" cy="409.4" r="0.55" fill="#333"/>
<circle cx="558.9" cy="433.6" r="0.55" fill="#333"/>
<circle cx="563.1" cy="429.3" r="0.55" fill="#333"/>
<circle cx="567.4" cy="425.0" r="0.55" fill="#333"/>
<circle cx="571.7" cy="420.7" r="0.55" fill="#333"/>
<circle cx="576.0" cy="416.5" r="0.55" fill="#333"/>
<circle cx="580.3" cy="412.2" r="0.55" fill="#333"/>
<circle cx="584.6" cy="407.9" r="0.55" fill="#333"/>
<circle cx="564.3" cy="436.6" r="0.55" fill="#333"/>
<circle cx="568.6" cy="432.3" r="0.55" fill="#333"/>
<circle cx="572.9" cy="428.0" r="0.55" fill="#333"/>
<circle cx="577.2" cy="423.7" r="0.55" fill="#333"/>
<circle cx="581.4" cy="419.5" r="0.55" fill="#333"/>
<circle cx="585.7" cy="415.2" r="0.55" fill="#333"/>
<circle cx="590.0" cy="410.9" r="0.55" fill="#333"/>
<circle cx="574.2" cy="435.1" r="0.55" fill="#333"/>
<circle cx="578.5" cy="430.8" r="0.55" fill="#333"/>
<circle cx="582.8" cy="426.5" r="0.55" fill="#333"/>
<circle cx="587.1" cy="422.2" r="0.55" fill="#333"/>
<circle cx="591.4" cy="418.0" r="0.55" fill="#333"/>
<circle cx="595.7" cy="413.7" r="0.55" fill="#333"/>
<circle cx="600.0" cy="409.4" r="0.55" fill="#333"/>
<circle cx="584.2" cy="433.6" r="0.55" fill="#333"/>
<circle cx="588.5" cy="429.3" r="0.55" fill="#333"/>
<circle cx="592.8" cy="425.0" r="0.55" fill="#333"/>
<circle cx="597.1" cy="420.7" r="0.55" fill="#333"/>
<circle cx="601.3" cy="416.5" r="0.55" fill="#333"/>
<circle cx="605.6" cy="412.2" r="0.55" fill="#333"/>
<circle cx="609.9" cy="407.9" r="0.55" fill="#333"/>
<circle cx="589.7" cy="436.6" r="0.55" fill="#333"/>
<circle cx="593.9" cy="432.3" r="0.55" fill="#333"/>
<circle cx="598.2" cy="428.0" r="0.55" fill="#333"/>
<circle cx="602.5" cy="423.7" r="0.55" fill="#333"/>
<circle cx="606.8" cy="419.5" r="0.55" fill="#333"/>
<circle cx="611.1" cy="415.2" r="0.55" fill="#333"/>
<circle cx="615.4" cy="410.9" r="0.55" fill="#333"/>
<circle cx="599.6" cy="435.1" r="0.55" fill="#333"/>
<circle cx="603.9" cy="430.8" r="0.55" fill="#333"/>
<circle cx="608.2" cy="426.5" r="0.55" fill="#333"/>
<circle cx="612.5" cy="422.2" r="0.55" fill="#333"/>
<circle cx="616.7" cy="418.0" r="0.55" fill="#333"/>
<circle cx="621.0" cy="413.7" r="0.55" fill="#333"/>
<circle cx="625.3" cy="409.4" r="0.55" fill="#333"/>
<circle cx="609.6" cy="433.6" r="0.55" fill="#333"/>
<circle cx="613.8" cy="429.3" r="0.55" fill="#333"/>
<circle cx="618.1" cy="425.0" r="0.55" fill="#333"/>
<circle cx="622.4" cy="420.7" r="0.55" fill="#333"/>
<circle cx="626.7" cy="416.5" r="0.55" fill="#333"/>
<circle cx="631.0" cy="412.2" r="0.55" fill="#333"/>
<circle cx="635.3" cy="407.9" r="0.55" fill="#333"/>
<circle cx="615.0" cy="436.6" r="0.55" fill="#333"/>
<circle cx="619.3" cy="432.3" r="0.55" fill="#333"/>
<circle cx="623.6" cy="428.0" r="0.55" fill="#333"/>
<circle cx="627.9" cy="423.7" r="0.55" fill="#333"/>
<circle cx="632.1" cy="419.5" r="0.55" fill="#333"/>
<circle cx="636.4" cy="415.2" r="0.55" fill="#333"/>
<circle cx="640.7" cy="410.9" r="0.55" fill="#333"/>
<circle cx="625.0" cy="435.1" r="0.55" fill="#333"/>
<circle cx="629.2" cy="430.8" r="0.55" fill="#333"/>
<circle cx="633.5" cy="426.5" r="0.55" fill="#333"/>
<circle cx="637.8" cy="422.2" r="0.55" fill="#333"/>
<circle cx="642.1" cy="418.0" r="0.55" fill="#333"/>
<circle cx="646.4" cy="413.7" r="0.55" fill="#333"/>
<circle cx="650.7" cy="409.4" r="0.55" fill="#333"/>
<circle cx="634.9" cy="433.6" r="0.55" fill="#333"/>
<circle cx="639.2" cy="429.3" r="0.55" fill="#333"/>
<circle cx="643.5" cy="425.0" r="0.55" fill="#333"/>
<circle cx="647.8" cy="420.7" r="0.55" fill="#333"/>
<circle cx="652.0" cy="416.5" r="0.55" fill="#333"/>
<circle cx="656.3" cy="412.2" r="0.55" fill="#333"/>
<circle cx="660.6" cy="407.9" r="0.55" fill="#333"/>
</g>
<line x1="430.5" y1="406.6" x2="609" y2="406.6" stroke="#111" stroke-width="1.3" />
<path d="M510.8,363 L510.8,165.2 L554.5,165.2 Q557.2,165.4 557.2,168.5 L557.2,360 Q557.2,363 554,363 Z" fill="#fff" stroke="#111" stroke-width="1.1" />
<line x1="550.6" y1="165.2" x2="550.6" y2="363" stroke="#111" stroke-width="1.0" />
<path d="M520,165.2 L520,169.6 L523.1,169.6 L523.1,165.2" fill="none" stroke="#111" stroke-width="0.9" />
<path d="M539.2,165.2 L539.2,169.6 L542.3000000000001,169.6 L542.3000000000001,165.2" fill="none" stroke="#111" stroke-width="0.9" />
<path d="M519.5,182.4 L519.5,198.9 A10.8,10 0 0 0 541.0999999999999,198.9 L541.0999999999999,182.4" fill="#fff" stroke="#111" stroke-width="1.0" />
<line x1="519.5" y1="194.0" x2="541.0999999999999" y2="194.0" stroke="#111" stroke-width="1.0" />
<path d="M520.9,185.4 A9.6,8.5 0 0 0 539.6999999999999,185.4" fill="none" stroke="#111" stroke-width="0.9" />
<path d="M520.9,188.0 A9.6,7 0 0 0 539.6999999999999,188.0" fill="none" stroke="#111" stroke-width="0.8" />
<line x1="521.0999999999999" y1="194.0" x2="521.0999999999999" y2="199.9" stroke="#111" stroke-width="0.8" />
<circle cx="530.3" cy="182.4" r="9.2" fill="#fff" stroke="#111" stroke-width="2.6"/>
<circle cx="530.3" cy="182.4" r="6.4" fill="#fff" stroke="#111" stroke-width="1.0"/>
<line x1="510.8" y1="182.4" x2="545.5" y2="182.4" stroke="#111" stroke-width="0.8" />
<line x1="530.3" y1="170" x2="530.3" y2="195.6" stroke="#111" stroke-width="0.8" />
<path d="M521.2,346.5 L521.2,363 L542.0,363 L542.0,346.5" fill="#fff" stroke="#111" stroke-width="1.4" />
<path d="M523.0,350.5 L523.0,363 M540.2,350.5 L540.2,363" fill="none" stroke="#111" stroke-width="0.9" />
<path d="M523.0,352.5 A9,7.5 0 0 0 540.2,352.5" fill="none" stroke="#111" stroke-width="0.9" />
<path d="M523.0,355.5 A9,6.5 0 0 0 540.2,355.5" fill="none" stroke="#111" stroke-width="0.8" />
<line x1="523.0" y1="361" x2="540.2" y2="361" stroke="#777" stroke-width="2.2" />
<circle cx="531.6" cy="346.5" r="9.2" fill="#fff" stroke="#111" stroke-width="2.6"/>
<circle cx="531.6" cy="346.5" r="6.4" fill="#fff" stroke="#111" stroke-width="1.0"/>
<line x1="518.5" y1="346.5" x2="547" y2="346.5" stroke="#111" stroke-width="0.8" />
<line x1="531.6" y1="333" x2="531.6" y2="384.8" stroke="#111" stroke-width="0.9" />
<text x="530.4" y="330.4" font-size="6.2" text-anchor="middle" font-weight="bold" >ULTRAHEAT</text>
<line x1="499.3" y1="215" x2="499.3" y2="333" stroke="#111" stroke-width="1.6" />
<path d="M499,215.2 L506,218.6 L506.4,222.4 L510,222.4 L510,206 L508.4,206 L508.4,222" fill="none" stroke="#111" stroke-width="0.9" />
<rect x="503" y="234.6" width="6" height="19.200000000000017" rx="3" fill="#fff" stroke="#111" stroke-width="1.0"/>
<rect x="503" y="267.7" width="6" height="18.30000000000001" rx="3" fill="#fff" stroke="#111" stroke-width="1.0"/>
<path d="M510.8,298.6 L504.6,298.6 L504.6,320 Q505,322.6 508,323.4" fill="none" stroke="#111" stroke-width="1.0" />
<path d="M507.6,308.6 L507.6,322 " fill="none" stroke="#111" stroke-width="0.9" />
<line x1="507.6" y1="308.6" x2="510.8" y2="308.6" stroke="#111" stroke-width="0.9" />
<line x1="506.5" y1="323" x2="510.5" y2="323.6" stroke="#111" stroke-width="2.0" />
<line x1="499.3" y1="333" x2="510.8" y2="333" stroke="#111" stroke-width="1.0" />
<line x1="510.8" y1="126" x2="510.8" y2="165.2" stroke="#111" stroke-width="1.0" />
<line x1="557.2" y1="116" x2="557.2" y2="155.4" stroke="#111" stroke-width="1.0" />
<line x1="501" y1="119" x2="556" y2="119" stroke="#111" stroke-width="1.2" />
<polygon points="500.20,119.00 511.20,115.80 507.90,119.00 511.20,122.20" fill="#111"/>
<polygon points="556.60,119.00 545.60,122.20 548.90,119.00 545.60,115.80" fill="#111"/>
<text x="528.6" y="111" font-size="15.8" text-anchor="middle" font-weight="normal" >73-84</text>
<line x1="512.4" y1="144.6" x2="556" y2="144.6" stroke="#111" stroke-width="1.2" />
<polygon points="511.60,144.60 522.60,141.40 519.30,144.60 522.60,147.80" fill="#111"/>
<polygon points="556.60,144.60 545.60,147.80 548.90,144.60 545.60,141.40" fill="#111"/>
<text x="532.4" y="139.5" font-size="15.8" text-anchor="middle" font-weight="normal" >61</text>
<line x1="551.6" y1="182.8" x2="579" y2="182.8" stroke="#111" stroke-width="1.0" />
<line x1="552.4" y1="346.5" x2="580" y2="346.5" stroke="#111" stroke-width="1.0" />
<line x1="574.2" y1="186" x2="574.2" y2="343" stroke="#111" stroke-width="1.5" />
<polygon points="574.20,184.60 578.50,201.10 574.20,196.48 569.90,201.10" fill="#111"/>
<polygon points="574.20,345.00 569.90,328.50 574.20,333.12 578.50,328.50" fill="#111"/>
<line x1="563.5" y1="350" x2="563.5" y2="404" stroke="#111" stroke-width="1.3" />
<polygon points="563.50,348.80 567.00,362.80 563.50,358.88 560.00,362.80" fill="#111"/>
<polygon points="563.50,405.00 560.00,391.00 563.50,394.92 567.00,391.00" fill="#111"/>
<text x="583.8" y="377" font-size="17.8" text-anchor="middle" font-weight="normal" transform="rotate(-90 583.8 377)" >50-110</text>
<line x1="499.3" y1="381.8" x2="558.5" y2="381.8" stroke="#111" stroke-width="1.0" />
<polygon points="533.60,381.80 542.60,379.20 539.90,381.80 542.60,384.40" fill="#111"/>
<text x="527" y="399.2" font-size="15.8" text-anchor="middle" font-weight="normal" >36-47</text>
<text x="232" y="467.8" font-size="18.6" text-anchor="middle" font-weight="normal" >Front View</text>
<text x="506.4" y="466.6" font-size="18.6" text-anchor="middle" font-weight="normal" >Side View</text>
<rect x="40" y="496" width="570.8" height="66.2" fill="none" stroke="#111" stroke-width="2"/>
<line x1="40" y1="533" x2="610.8" y2="533" stroke="#111" stroke-width="1.8"/>
<line x1="141.4" y1="496" x2="141.4" y2="562.2" stroke="#111" stroke-width="1.8"/>
<line x1="199.7" y1="496" x2="199.7" y2="562.2" stroke="#111" stroke-width="1.8"/>
<line x1="255" y1="496" x2="255" y2="562.2" stroke="#111" stroke-width="1.8"/>
<line x1="312.5" y1="496" x2="312.5" y2="562.2" stroke="#111" stroke-width="1.8"/>
<line x1="402" y1="496" x2="402" y2="562.2" stroke="#111" stroke-width="1.8"/>
<line x1="490.4" y1="496" x2="490.4" y2="562.2" stroke="#111" stroke-width="1.8"/>
<text x="91.2" y="517.4" font-size="13.6" text-anchor="middle">Product Code</text>
<text x="89.7" y="553.2" font-size="16" text-anchor="middle">6PSS1400W</text>
<text x="170.55" y="511.6" font-size="12.5" text-anchor="middle">Height</text>
<text x="170.55" y="526.2" font-size="12.5" text-anchor="middle">(mm)</text>
<text x="170.55" y="553.2" font-size="16" text-anchor="middle">600</text>
<text x="227.35" y="511.6" font-size="12.5" text-anchor="middle">Width</text>
<text x="227.35" y="526.2" font-size="12.5" text-anchor="middle">(mm)</text>
<text x="227.35" y="553.2" font-size="16" text-anchor="middle">1400</text>
<text x="283.75" y="511.6" font-size="12.5" text-anchor="middle">Depth</text>
<text x="283.75" y="526.2" font-size="12.5" text-anchor="middle">(mm)</text>
<text x="283.75" y="553.8000000000001" font-size="16" text-anchor="middle">61</text>
<text x="357.25" y="511.6" font-size="12.5" text-anchor="middle">Pipe Centres</text>
<text x="357.25" y="526.2" font-size="12.5" text-anchor="middle">(mm)</text>
<text x="356.25" y="553.2" font-size="16" text-anchor="middle">50-1490</text>
<text x="446.2" y="511.6" font-size="12.5" text-anchor="middle">Wall to Front</text>
<text x="446.2" y="526.2" font-size="12.5" text-anchor="middle">(mm)</text>
<text x="442.2" y="553.2" font-size="16" text-anchor="middle">73-84</text>
<text x="550.5999999999999" y="511.6" font-size="12.5" text-anchor="middle">Wall to Pipe Centre</text>
<text x="550.5999999999999" y="526.2" font-size="12.5" text-anchor="middle">(mm)</text>
<text x="547.0999999999999" y="554.0" font-size="16" text-anchor="middle">36-47</text>
</svg>
</body></html>
